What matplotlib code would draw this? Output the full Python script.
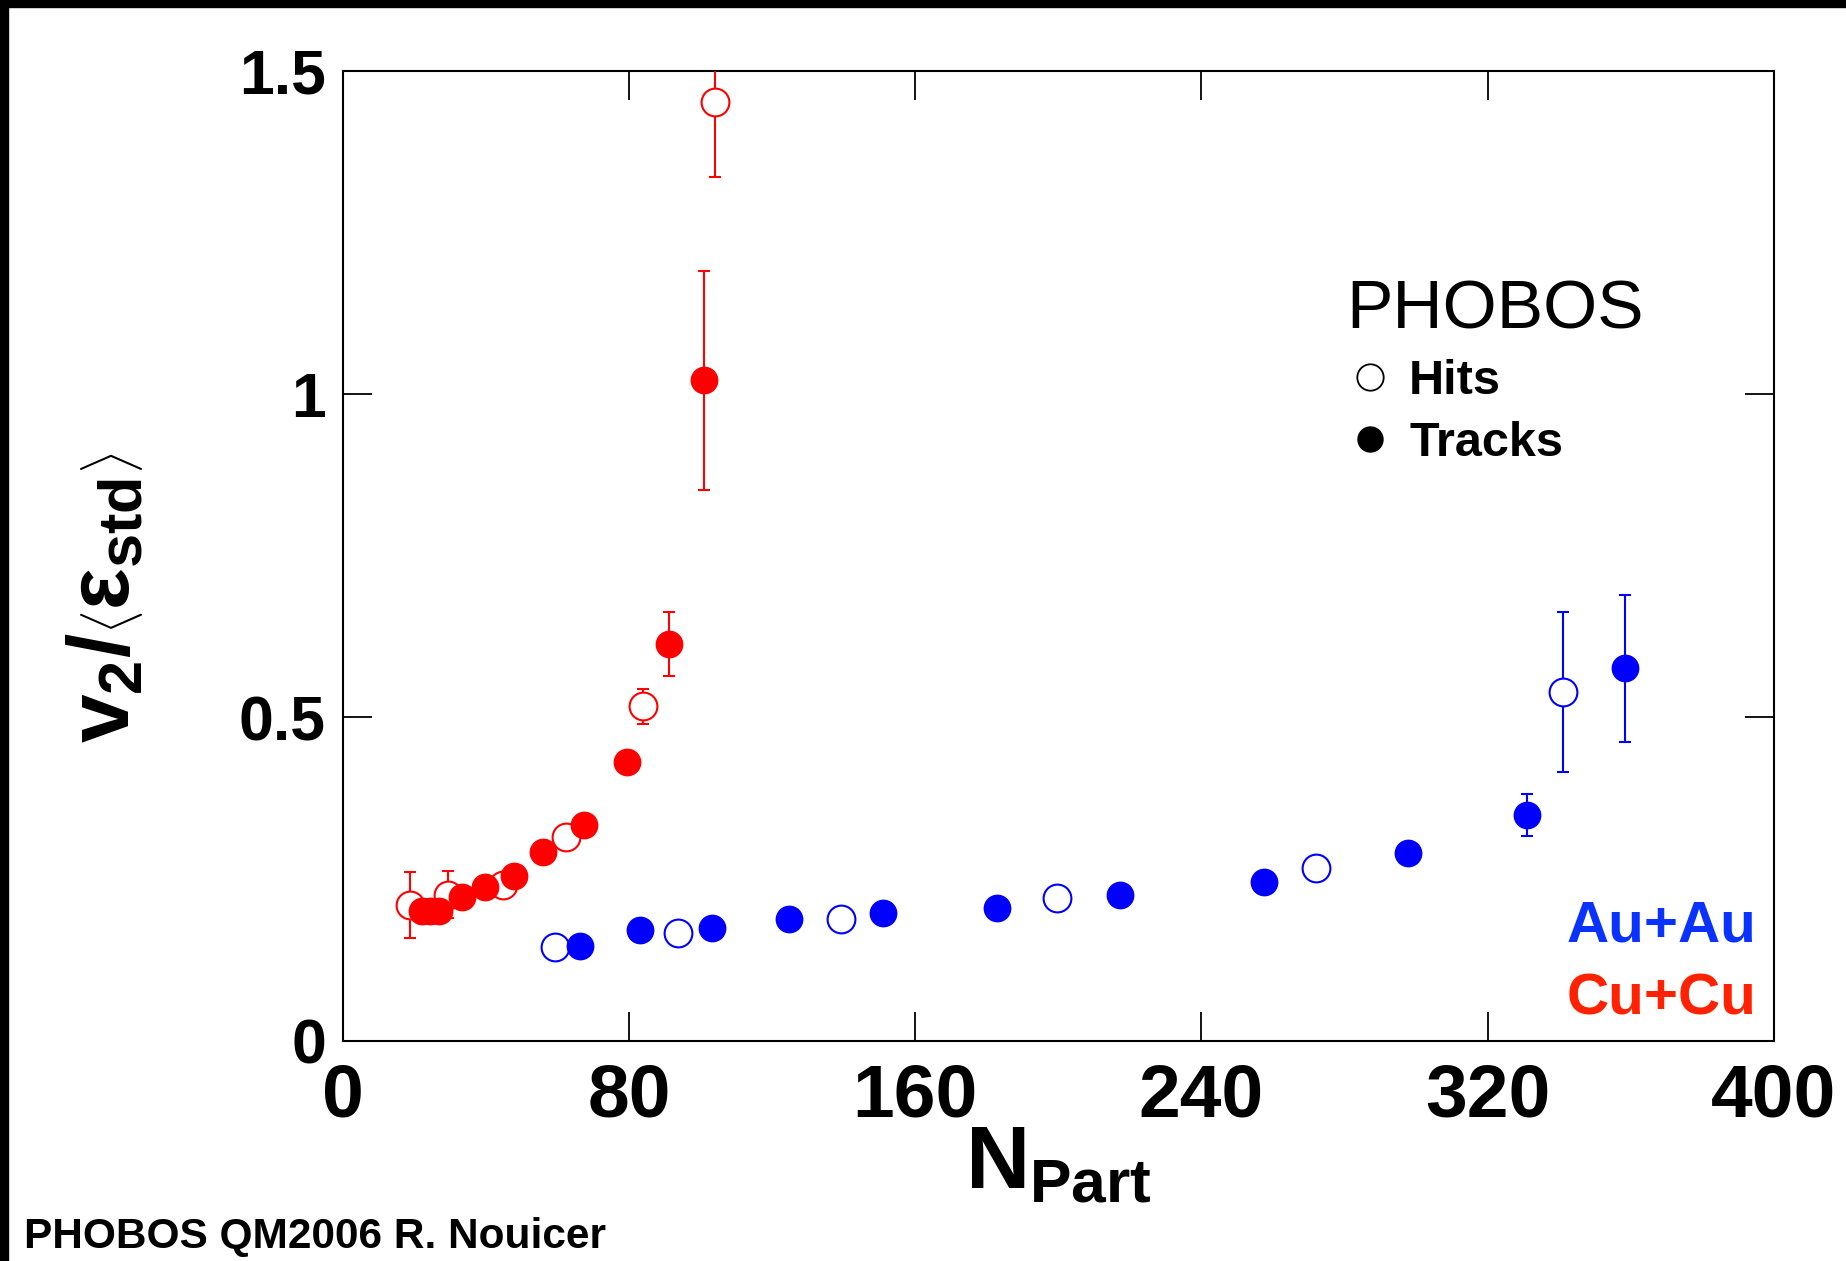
import matplotlib
matplotlib.use('Agg')
import matplotlib.pyplot as plt
from matplotlib.lines import Line2D
from matplotlib.patches import Rectangle
import numpy as np

# Cu+Cu, hits (open)
cu_hits_n = [18.9, 29.4, 44.9, 62.3, 83.9, 104.0]
cu_hits_v = [0.210, 0.226, 0.241, 0.315, 0.517, 1.452]
cu_hits_e = [0.051, 0.037, 0.0, 0.0, 0.027, 0.117]
# Cu+Cu, tracks (filled)
cu_trk_n = [22.3, 24.5, 26.8, 33.3, 39.8, 47.9, 56.1, 67.4, 79.4, 91.3, 101.0]
cu_trk_v = [0.201, 0.201, 0.201, 0.223, 0.238, 0.255, 0.292, 0.334, 0.431, 0.614, 1.021]
cu_trk_e = [0.0, 0.0, 0.0, 0.0, 0.0, 0.0, 0.0, 0.0, 0.0, 0.0495, 0.170]
# Au+Au, hits (open)
au_hits_n = [59.4, 93.6, 139.2, 199.6, 272.0, 341.1]
au_hits_v = [0.145, 0.167, 0.188, 0.221, 0.267, 0.539]
au_hits_e = [0.0, 0.0, 0.0, 0.0, 0.0, 0.124]
# Au+Au, tracks (filled)
au_trk_n = [66.3, 83.1, 103.3, 124.8, 150.9, 183.0, 217.2, 257.6, 297.8, 330.9, 358.3]
au_trk_v = [0.147, 0.171, 0.175, 0.188, 0.197, 0.205, 0.226, 0.246, 0.291, 0.349, 0.576]
au_trk_e = [0.0, 0.0, 0.0, 0.0, 0.0, 0.0, 0.0, 0.0, 0.0, 0.033, 0.114]

x_ticks = [0, 80, 160, 240, 320, 400]
y_ticks = [0, 0.5, 1, 1.5]
y_tick_labels = ['0', '0.5', '1', '1.5']

RED = '#ff0000'
BLUE = '#0000ff'

plt.rcParams['font.family'] = ['Liberation Sans', 'DejaVu Sans']
plt.rcParams['mathtext.fontset'] = 'custom'
plt.rcParams['mathtext.rm'] = 'Liberation Sans:bold'
plt.rcParams['mathtext.it'] = 'Liberation Sans:bold'
plt.rcParams['mathtext.bf'] = 'Liberation Sans:bold'

fig = plt.figure(figsize=(18.46, 12.61), dpi=100)
ax = fig.add_axes([0.1856, 0.1747, 0.7754, 0.7692])

# black strips on the left and top edge of the screenshot
fig.patches.append(Rectangle((0, 0), 8 / 1846, 1, transform=fig.transFigure,
                             color='black', zorder=10))
fig.patches.append(Rectangle((0, 1 - 7 / 1261), 1, 7 / 1261, transform=fig.transFigure,
                             color='black', zorder=10))

common = dict(linestyle='none', elinewidth=1.5, capsize=4.5, capthick=1.5)

# open markers first, filled ones on top
ax.errorbar(cu_hits_n, cu_hits_v, yerr=cu_hits_e, marker='o', ms=20,
            mfc='white', mec=RED, mew=1.5, color=RED, zorder=3, **common)
ax.errorbar(au_hits_n, au_hits_v, yerr=au_hits_e, marker='o', ms=20,
            mfc='white', mec=BLUE, mew=1.5, color=BLUE, zorder=3, **common)
ax.errorbar(cu_trk_n, cu_trk_v, yerr=cu_trk_e, marker='o', ms=19,
            mfc=RED, mec=RED, color=RED, zorder=4, **common)
ax.errorbar(au_trk_n, au_trk_v, yerr=au_trk_e, marker='o', ms=19,
            mfc=BLUE, mec=BLUE, color=BLUE, zorder=4, **common)

ax.set_xlim(0, 400)
ax.set_ylim(0, 1.5)
ax.set_xticks(x_ticks)
ax.set_yticks(y_ticks)
ax.set_yticklabels(y_tick_labels)
ax.tick_params(direction='in', length=21, width=1.3, top=True, right=True)
ax.tick_params(axis='x', labelsize=54, pad=16)
ax.tick_params(axis='y', labelsize=45, pad=12)
for lab in ax.get_xticklabels() + ax.get_yticklabels():
    lab.set_fontweight('bold')
for sp in ax.spines.values():
    sp.set_linewidth(1.5)

# axis titles
ax.text(0.5, -0.085, r'$N_{Part}$', transform=ax.transAxes, ha='center', va='top',
        fontsize=64)
ax.text(-0.165, 0.457, r'$v_2/\left\langle\varepsilon_{std}\right\rangle$',
        transform=ax.transAxes, rotation=90, ha='center', va='center', fontsize=63)

# legend
handles = [
    Line2D([], [], linestyle='none', marker='o', ms=19, mfc='white', mec='black', mew=1.3),
    Line2D([], [], linestyle='none', marker='o', ms=18, mfc='black', mec='black'),
]
leg = ax.legend(handles, ['Hits', 'Tracks'], title='PHOBOS', loc='upper left',
                bbox_to_anchor=(0.684, 0.811), frameon=False, borderpad=0,
                handlelength=1.0, handletextpad=0.3, labelspacing=0.35,
                prop={'size': 35, 'weight': 'bold'}, alignment='left')
leg.get_title().set_fontsize(50)

ax.text(0.988, 0.102, 'Au+Au', transform=ax.transAxes, ha='right', va='baseline',
        fontsize=42, fontweight='bold', color='#0a32ff')
ax.text(0.988, 0.027, 'Cu+Cu', transform=ax.transAxes, ha='right', va='baseline',
        fontsize=42, fontweight='bold', color='#ff2200')

fig.text(0.013, 0.01, 'PHOBOS QM2006 R. Nouicer', ha='left', va='baseline',
         fontsize=30.5, fontweight='bold')

fig.savefig('out.png', dpi=100)
